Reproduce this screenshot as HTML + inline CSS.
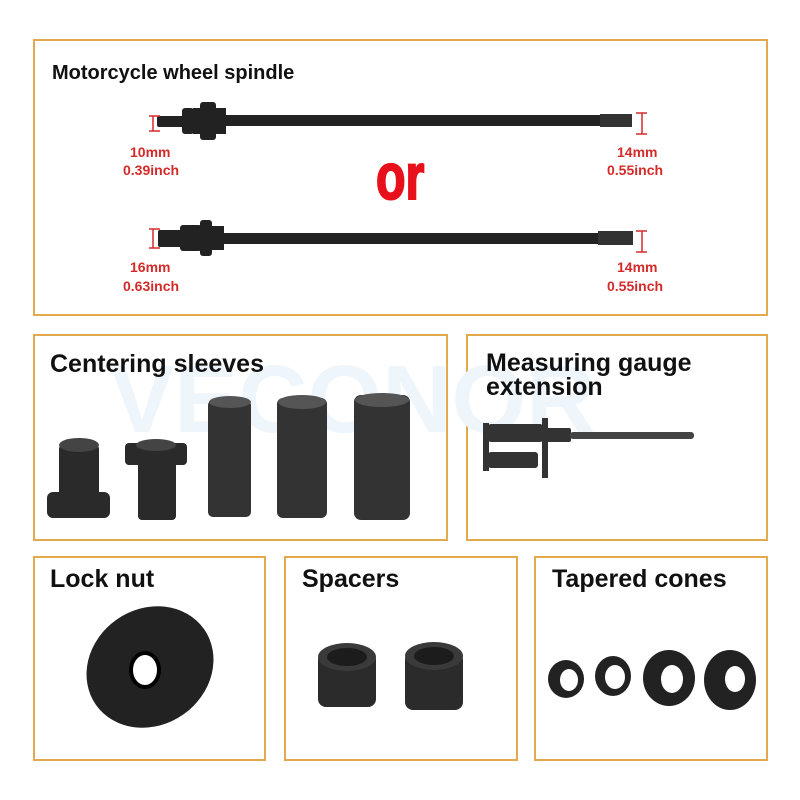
<!DOCTYPE html>
<html><head><meta charset="utf-8"><style>
body{margin:0;background:#fff}
svg{display:block}
text{font-family:"Liberation Sans",Arial,sans-serif;font-weight:bold}
</style></head><body>
<svg width="800" height="800" viewBox="0 0 800 800" xmlns="http://www.w3.org/2000/svg">
<rect width="800" height="800" fill="#fff"/>
<g fill="none" stroke="#e3a94e" stroke-width="2">
<rect x="34" y="40" width="733" height="275"/>
<rect x="34" y="335" width="413" height="205"/>
<rect x="467" y="335" width="300" height="205"/>
<rect x="34" y="557" width="231" height="203"/>
<rect x="285" y="557" width="232" height="203"/>
<rect x="535" y="557" width="232" height="203"/>
</g>
<!-- watermark -->
<text x="110" y="432" font-size="96" fill="#eef5fb" font-weight="bold">VECONOR</text>
<!-- titles -->
<text x="52" y="79" font-size="20" fill="#111">Motorcycle wheel spindle</text>
<text x="50" y="372" font-size="25" fill="#111">Centering sleeves</text>
<text x="486" y="371" font-size="25" fill="#111">Measuring gauge</text>
<text x="486" y="395" font-size="25" fill="#111">extension</text>
<text x="50" y="587" font-size="25" fill="#111">Lock nut</text>
<text x="302" y="587" font-size="25" fill="#111">Spacers</text>
<text x="552" y="587" font-size="25" fill="#111">Tapered cones</text>
<!-- spindle 1 -->
<g fill="#222">
<rect x="157" y="116" width="30" height="11" rx="2"/>
<rect x="182" y="108" width="12" height="26" rx="3"/>
<rect x="200" y="102" width="16" height="38" rx="3"/>
<rect x="193" y="108" width="8" height="26"/>
<rect x="214" y="108" width="12" height="26"/>
<rect x="224" y="115" width="400" height="11" rx="2"/>
<rect x="600" y="114" width="32" height="13" fill="#333"/>
</g>
<!-- spindle 2 -->
<g fill="#222">
<rect x="158" y="230" width="26" height="17" rx="2"/>
<rect x="180" y="225" width="22" height="26" rx="3"/>
<rect x="200" y="220" width="12" height="36" rx="3"/>
<rect x="210" y="226" width="14" height="24"/>
<rect x="222" y="233" width="402" height="11" rx="2"/>
<rect x="598" y="231" width="35" height="14" fill="#333"/>
</g>
<g stroke="#d42a2a" stroke-width="1.5">
<line x1="153" y1="116" x2="153" y2="131"/><line x1="149" y1="116" x2="160" y2="116"/><line x1="149" y1="131" x2="160" y2="131"/>
<line x1="642" y1="113" x2="642" y2="134"/><line x1="636" y1="113" x2="647" y2="113"/><line x1="636" y1="134" x2="647" y2="134"/>
<line x1="153" y1="229" x2="153" y2="248"/><line x1="149" y1="229" x2="160" y2="229"/><line x1="149" y1="248" x2="160" y2="248"/>
<line x1="642" y1="231" x2="642" y2="252"/><line x1="636" y1="231" x2="647" y2="231"/><line x1="636" y1="252" x2="647" y2="252"/>
</g>
<g fill="#d42a2a" font-size="14">
<text x="130" y="157">10mm</text><text x="123" y="175">0.39inch</text>
<text x="617" y="157">14mm</text><text x="607" y="175">0.55inch</text>
<text x="130" y="272">16mm</text><text x="123" y="291">0.63inch</text>
<text x="617" y="272">14mm</text><text x="607" y="291">0.55inch</text>
</g>
<text x="0" y="0" font-size="62" fill="#e8101a" stroke="#e8101a" stroke-width="2" transform="translate(376,199) scale(0.78,1.05)">or</text>
<!-- centering sleeves -->
<g fill="#2a2a2a">
<rect x="47" y="492" width="63" height="26" rx="6"/>
<rect x="59" y="445" width="40" height="60" rx="4"/>
<ellipse cx="79" cy="445" rx="20" ry="7" fill="#444"/>
<rect x="138" y="455" width="38" height="65" rx="4"/>
<rect x="125" y="443" width="62" height="22" rx="4"/>
<ellipse cx="156" cy="445" rx="20" ry="6" fill="#444"/>
<rect x="208" y="400" width="43" height="117" rx="5" fill="#333"/>
<ellipse cx="230" cy="402" rx="21" ry="6" fill="#555"/>
<rect x="277" y="398" width="50" height="120" rx="6" fill="#333"/>
<ellipse cx="302" cy="402" rx="24" ry="7" fill="#555"/>
<rect x="354" y="395" width="56" height="125" rx="7" fill="#333"/>
<ellipse cx="382" cy="400" rx="27" ry="7" fill="#555"/>
</g>
<!-- gauge -->
<g fill="#333">
<rect x="483" y="423" width="6" height="48"/>
<rect x="488" y="424" width="55" height="18" rx="3"/>
<rect x="488" y="452" width="50" height="16" rx="3"/>
<rect x="542" y="418" width="6" height="60"/>
<rect x="546" y="428" width="25" height="14" rx="2"/>
<rect x="570" y="432" width="124" height="7" rx="3" fill="#444"/>
</g>
<!-- lock nut -->
<ellipse cx="150" cy="667" rx="66" ry="58" fill="#222" transform="rotate(-35 150 667)"/>
<ellipse cx="145" cy="670" rx="14" ry="17" fill="#fff" stroke="#000" stroke-width="4"/>
<!-- spacers -->
<g>
<rect x="318" y="652" width="58" height="55" rx="8" fill="#2b2b2b"/>
<ellipse cx="347" cy="657" rx="29" ry="14" fill="#3a3a3a"/>
<ellipse cx="347" cy="657" rx="20" ry="9" fill="#1c1c1c"/>
<rect x="405" y="652" width="58" height="58" rx="8" fill="#2b2b2b"/>
<ellipse cx="434" cy="656" rx="29" ry="14" fill="#3a3a3a"/>
<ellipse cx="434" cy="656" rx="20" ry="9" fill="#1c1c1c"/>
</g>
<!-- cones -->
<g fill="#222">
<ellipse cx="566" cy="679" rx="18" ry="19"/><ellipse cx="569" cy="680" rx="9" ry="11" fill="#fff"/>
<ellipse cx="613" cy="676" rx="18" ry="20"/><ellipse cx="615" cy="677" rx="10" ry="12" fill="#fff"/>
<ellipse cx="669" cy="678" rx="26" ry="28"/><ellipse cx="672" cy="679" rx="11" ry="14" fill="#fff"/>
<ellipse cx="730" cy="680" rx="26" ry="30"/><ellipse cx="735" cy="679" rx="10" ry="13" fill="#fff"/>
</g>
</svg>
</body></html>
